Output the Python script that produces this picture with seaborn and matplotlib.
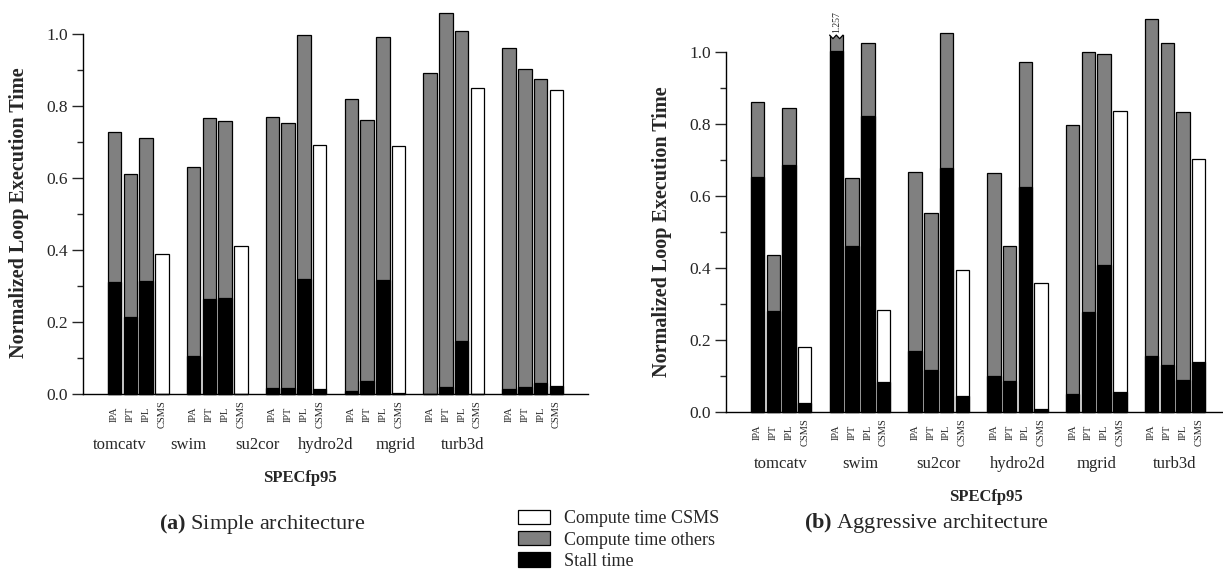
import numpy as np
import pandas as pd
import seaborn as sns
import matplotlib.pyplot as plt
from matplotlib.patches import Patch, Polygon
from matplotlib.ticker import MultipleLocator
from matplotlib import transforms

# ---- data -----------------------------------------------------------------
benchmarks = ["tomcatv", "swim", "su2cor", "hydro2d", "mgrid", "turb3d"]
schemes = ["IPA", "IPT", "IPL", "CSMS"]

# normalized loop execution time (total height of each bar)
simple_total = [0.728, 0.611, 0.711, 0.388,
                0.631, 0.767, 0.759, 0.410,
                0.770, 0.753, 0.998, 0.693,
                0.819, 0.760, 0.993, 0.688,
                0.892, 1.057, 1.007, 0.850,
                0.962, 0.904, 0.876, 0.844]
# stall portion of each bar
simple_stall = [0.310, 0.215, 0.314, 0.000,
                0.106, 0.263, 0.268, 0.000,
                0.017, 0.017, 0.320, 0.015,
                0.009, 0.037, 0.317, 0.002,
                0.000, 0.019, 0.148, 0.000,
                0.013, 0.020, 0.030, 0.023]

aggressive_total = [0.860, 0.437, 0.845, 0.180,
                    1.257, 0.649, 1.026, 0.283,
                    0.667, 0.554, 1.052, 0.395,
                    0.665, 0.462, 0.973, 0.359,
                    0.797, 0.999, 0.994, 0.837,
                    1.091, 1.024, 0.834, 0.704]
aggressive_stall = [0.653, 0.280, 0.687, 0.024,
                    1.003, 0.462, 0.822, 0.082,
                    0.169, 0.118, 0.677, 0.044,
                    0.099, 0.087, 0.626, 0.007,
                    0.051, 0.279, 0.407, 0.055,
                    0.156, 0.131, 0.088, 0.139]

legend_labels = ["Compute time CSMS", "Compute time others", "Stall time"]

# ---- style ----------------------------------------------------------------
sns.set_style("ticks")
plt.rcParams["font.family"] = ["Liberation Serif", "DejaVu Serif"]
plt.rcParams["mathtext.fontset"] = "custom"
plt.rcParams["mathtext.rm"] = "Liberation Serif"
plt.rcParams["mathtext.bf"] = "Liberation Serif:bold"

GRAY = "#808080"
EDGE_LW = 0.9
BAR_W = 0.85
W, H = 1223, 576

fig = plt.figure(figsize=(W / 100, H / 100), dpi=100)


def px_box(x0, x1, y_zero, y_one):
    return [x0 / W, 1 - y_zero / H, (x1 - x0) / W, (y_zero - y_one) / H]


ax_a = fig.add_axes(px_box(83, 588, 394, 34))
ax_b = fig.add_axes(px_box(726, 1246, 412, 52))


def frame(total, stall):
    rows = []
    for gi, b in enumerate(benchmarks):
        for si, s in enumerate(schemes):
            k = gi * len(schemes) + si
            rows.append(dict(pos=gi * 5 + si, bench=b, scheme=s,
                             total=total[k], stall=stall[k],
                             kind="CSMS" if s == "CSMS" else "others"))
    return pd.DataFrame(rows)


def draw(ax, df, xmax, tick_pad):
    sns.barplot(data=df, x="pos", y="total", hue="kind",
                palette={"others": GRAY, "CSMS": "white"},
                native_scale=True, dodge=False, width=BAR_W, errorbar=None,
                edgecolor="black", linewidth=EDGE_LW, legend=False, ax=ax)
    sns.barplot(data=df, x="pos", y="stall", color="black",
                native_scale=True, width=BAR_W, errorbar=None,
                edgecolor="black", linewidth=EDGE_LW, ax=ax)
    for p in ax.patches:
        p.set_clip_on(False)
    ax.set_xlim(-2, xmax)
    ax.set_ylim(0, 1.0)
    ax.yaxis.set_major_locator(MultipleLocator(0.2))
    ax.yaxis.set_minor_locator(MultipleLocator(0.1))
    ax.set_yticks(np.arange(0, 1.01, 0.2))
    ax.set_yticklabels([f"{v:.1f}" for v in np.arange(0, 1.01, 0.2)], fontsize=12.5)
    ax.tick_params(axis="y", which="major", length=8, width=1.0, pad=3, direction="out")
    ax.tick_params(axis="y", which="minor", length=4, width=1.0, direction="out")
    ax.set_xticks(df["pos"])
    ax.set_xticklabels(df["scheme"], rotation=90, fontsize=7.5, va="center")
    ax.tick_params(axis="x", length=0, pad=tick_pad)
    sns.despine(ax=ax)
    for s in ("left", "bottom"):
        ax.spines[s].set_linewidth(1.0)
        ax.spines[s].set_color("black")
    ax.set_ylabel("")


draw(ax_a, frame(simple_total, simple_stall), 30, 14.5)
draw(ax_b, frame(aggressive_total, aggressive_stall), 31, 14.8)

# broken bar for swim / IPA in the aggressive configuration
BREAK_LO, BREAK_HI = 1.037, 1.047
cut_pos = benchmarks.index("swim") * 5 + schemes.index("IPA")
x0, x1 = cut_pos - BAR_W / 2, cut_pos + BAR_W / 2
zig_x = [x0, x0 + 0.25 * BAR_W, cut_pos, x0 + 0.75 * BAR_W, x1]
zig_y = [BREAK_HI, BREAK_LO, BREAK_HI, BREAK_LO, BREAK_HI]
clip_poly = Polygon([(x0 - 0.2, -0.05), (x0 - 0.2, BREAK_HI)] +
                    list(zip(zig_x, zig_y)) +
                    [(x1 + 0.2, BREAK_HI), (x1 + 0.2, -0.05)],
                    closed=True, transform=ax_b.transData)
for p in ax_b.patches:
    if abs(p.get_x() + p.get_width() / 2 - cut_pos) < 0.1:
        p.set_clip_on(True)
        p.set_clip_box(None)
        p.set_clip_path(clip_poly)
ax_b.plot(zig_x, zig_y, color="black", lw=EDGE_LW, clip_on=False)
swim_ipa = aggressive_total[benchmarks.index("swim") * 4 + schemes.index("IPA")]
ax_b.text(cut_pos + 0.05, 1.053, f"{swim_ipa:.3f}", rotation=90,
          ha="center", va="bottom", fontsize=7)

# benchmark names under each group
fig_y = lambda py: 1 - py / H
blend_a = transforms.blended_transform_factory(ax_a.transAxes, fig.transFigure)
blend_b = transforms.blended_transform_factory(ax_b.transData, fig.transFigure)
name_x_a = [0.0727, 0.208, 0.345, 0.481, 0.618, 0.752]
for gi, b in enumerate(benchmarks):
    ax_a.text(name_x_a[gi], fig_y(449), b, transform=blend_a,
              ha="center", va="baseline", fontsize=12)
    ax_b.text(gi * 5 + 1.5, fig_y(468), b, transform=blend_b,
              ha="center", va="baseline", fontsize=12)

# axis titles
ax_a.set_xlabel("SPECfp95", fontsize=12, fontweight="bold")
ax_a.xaxis.set_label_coords((300 - 83) / 505, (394 - 470) / 360)
ax_b.set_xlabel("SPECfp95", fontsize=12, fontweight="bold")
ax_b.xaxis.set_label_coords(0.5, (412 - 489) / 360)

for cx, cy in [(19.5, 213), (662.5, 232)]:
    fig.text(cx / W, fig_y(cy), "Normalized Loop Execution Time", rotation=90,
             ha="center", va="center", fontsize=14.5, fontweight="bold")

fig.text(262.5 / W, fig_y(529), r"$\mathbf{(a)}$ Simple architecture",
         ha="center", va="baseline", fontsize=16)
fig.text(926 / W, fig_y(528), r"$\mathbf{(b)}$ Aggressive architecture",
         ha="center", va="baseline", fontsize=16)

handles = [Patch(facecolor=c, edgecolor="black", linewidth=EDGE_LW, label=l)
           for c, l in zip(["white", GRAY, "black"], legend_labels)]
fig.legend(handles=handles, loc="upper left",
           bbox_to_anchor=(518 / W, fig_y(510)), frameon=False, fontsize=13,
           handlelength=1.75, handleheight=0.85, handletextpad=0.8,
           labelspacing=0.2, borderpad=0, borderaxespad=0)

fig.savefig("out.png", dpi=100)
